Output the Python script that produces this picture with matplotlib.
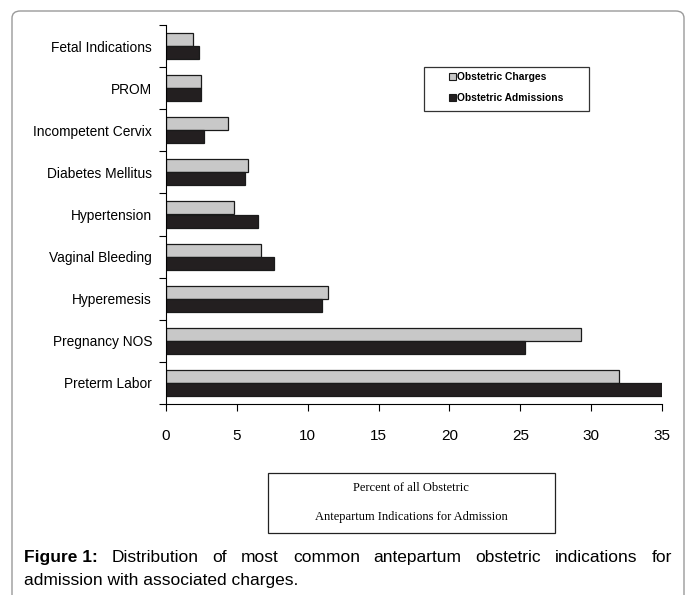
import numpy as np
import matplotlib.pyplot as plt
from matplotlib.patches import Patch, FancyBboxPatch, Rectangle

plt.rcParams['font.family'] = ['Liberation Sans', 'DejaVu Sans']

# indications, top to bottom
indications = ['Fetal Indications', 'PROM', 'Incompetent Cervix', 'Diabetes Mellitus',
               'Hypertension', 'Vaginal Bleeding', 'Hyperemesis', 'Pregnancy NOS',
               'Preterm Labor']
charges = [1.9, 2.5, 4.4, 5.8, 4.8, 6.7, 11.4, 29.3, 32.0]
admissions = [2.35, 2.45, 2.7, 5.6, 6.5, 7.65, 11.0, 25.3, 35.0]
xticks = [0, 5, 10, 15, 20, 25, 30, 35]

W, H = 696, 595
fig = plt.figure(figsize=(W / 100, H / 100), dpi=100)

# grey rounded frame around the figure panel
frame = FancyBboxPatch((12 / W, -20 / H), 672 / W, (H - 11 + 20) / H,
                       boxstyle='round,pad=0,rounding_size=0.012',
                       transform=fig.transFigure, facecolor='none',
                       edgecolor='#9a9a9a', linewidth=1.0)
fig.patches.append(frame)

ax = fig.add_axes([166 / W, (H - 404) / H, 496 / W, 379 / H])

y = np.arange(len(indications))
bh = 0.31
ax.barh(y - bh / 2, charges, height=bh, color='#c8c8c8', edgecolor='#1a1a1a', linewidth=0.9)
ax.barh(y + bh / 2, admissions, height=bh, color='#231f20', edgecolor='#1a1a1a', linewidth=0.9)

ax.set_ylim(len(indications) - 0.5, -0.5)
ax.set_xlim(0, 35)
ax.set_xticks(xticks)
ax.set_xticklabels([str(v) for v in xticks], fontsize=11)

# category labels centred, ticks on the boundaries
ax.set_yticks(np.arange(len(indications) + 1) - 0.5)
ax.set_yticklabels([])
ax.set_yticks(y, minor=True)
ax.set_yticklabels(indications, minor=True, fontsize=9.9)
ax.tick_params(axis='y', which='minor', length=0, pad=10)
ax.tick_params(axis='y', which='major', length=5, direction='out', width=0.8)
ax.tick_params(axis='x', length=5, direction='out', width=0.8, pad=13)

for s in ['top', 'right']:
    ax.spines[s].set_visible(False)
for s in ['left', 'bottom']:
    ax.spines[s].set_linewidth(0.8)

# legend box drawn separately, legend entries inside it
fig.patches.append(Rectangle((424 / W, 1 - 111 / H), 165 / W, 44 / H,
                             transform=fig.transFigure, facecolor='white',
                             edgecolor='#333333', linewidth=0.9))
handles = [Patch(facecolor='#c8c8c8', edgecolor='#1a1a1a', linewidth=0.8, label='Obstetric Charges'),
           Patch(facecolor='#231f20', edgecolor='#1a1a1a', linewidth=0.8, label='Obstetric Admissions')]
leg = fig.legend(handles=handles, loc='upper left', bbox_to_anchor=(449 / W, 1 - 72 / H),
                 bbox_transform=fig.transFigure, prop={'weight': 'bold', 'size': 7.4},
                 handlelength=0.65, handleheight=0.65, handletextpad=0.1,
                 labelspacing=1.05, borderpad=0, borderaxespad=0, frameon=False)

# axis title box
fig.patches.append(Rectangle((268 / W, 1 - 533 / H), 287 / W, 60 / H,
                             transform=fig.transFigure, facecolor='white',
                             edgecolor='#222222', linewidth=0.9))
fig.text(411 / W, 1 - 488 / H, 'Percent of all Obstetric', ha='center', va='center',
         family='Liberation Serif', fontsize=9)
fig.text(411 / W, 1 - 517 / H, 'Antepartum Indications for Admission', ha='center', va='center',
         family='Liberation Serif', fontsize=9)

# caption, first line justified
cap_size = 12.5
x0, x1 = 24 / W, 672 / W
words = [('Figure 1:', 'bold')] + [(w, 'normal') for w in
         'Distribution of most common antepartum obstetric indications for'.split()]
texts = [fig.text(x0, 1 - 562 / H, w, fontsize=cap_size, weight=wt, va='baseline', ha='left')
         for w, wt in words]
renderer = fig.canvas.get_renderer()
widths = [t.get_window_extent(renderer).width / W for t in texts]
gap = (x1 - x0 - sum(widths)) / (len(texts) - 1)
xpos = x0
for t, wd in zip(texts, widths):
    t.set_x(xpos)
    xpos += wd + gap
fig.text(x0, 1 - 585 / H, 'admission with associated charges.', fontsize=cap_size,
         va='baseline', ha='left')

fig.savefig('out.png', dpi=100)
